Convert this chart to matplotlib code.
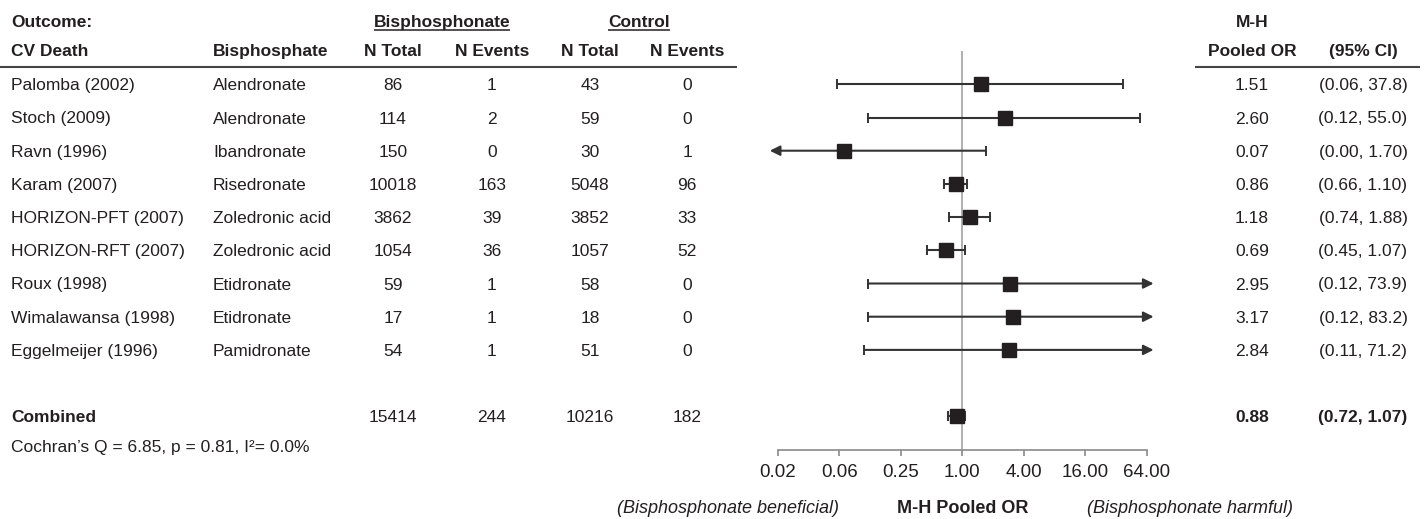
import matplotlib
matplotlib.use("Agg")
import matplotlib.pyplot as plt
from matplotlib.ticker import NullLocator

plt.rcParams["font.family"] = ["Liberation Sans", "DejaVu Sans"]

# ---- data ----
studies = ["Palomba (2002)", "Stoch (2009)", "Ravn (1996)", "Karam (2007)",
           "HORIZON-PFT (2007)", "HORIZON-RFT (2007)", "Roux (1998)",
           "Wimalawansa (1998)", "Eggelmeijer (1996)"]
drugs = ["Alendronate", "Alendronate", "Ibandronate", "Risedronate",
         "Zoledronic acid", "Zoledronic acid", "Etidronate", "Etidronate",
         "Pamidronate"]
bis_total = [86, 114, 150, 10018, 3862, 1054, 59, 17, 54]
bis_events = [1, 2, 0, 163, 39, 36, 1, 1, 1]
ctl_total = [43, 59, 30, 5048, 3852, 1057, 58, 18, 51]
ctl_events = [0, 0, 1, 96, 33, 52, 0, 0, 0]
odds_ratio = [1.51, 2.60, 0.07, 0.86, 1.18, 0.69, 2.95, 3.17, 2.84]
ci_low = [0.06, 0.12, 0.00, 0.66, 0.74, 0.45, 0.12, 0.12, 0.11]
ci_high = [37.8, 55.0, 1.70, 1.10, 1.88, 1.07, 73.9, 83.2, 71.2]

combined_counts = [15414, 244, 10216, 182]
combined_or = 0.88
combined_ci = (0.72, 1.07)

tick_vals = [1 / 64, 1 / 16, 1 / 4, 1, 4, 16, 64]
tick_labels = ["0.02", "0.06", "0.25", "1.00", "4.00", "16.00", "64.00"]

# ---- layout (pixels of the 1424x519 canvas) ----
W, H = 1424, 519
ROW0, ROW_H = 84.3, 33.2          # first study row, row pitch
X_ONE, PX_PER4 = 962.3, 61.5      # where OR=1 sits, pixels per factor 4
FX0, FX1 = 740, 1190              # forest panel extent
TIP_LO, TIP_HI = 4 ** -3.13, 4 ** 3.11   # arrow tips for open-ended CIs

TXT = "#231f20"
LINE = "#333333"
FS = 12.5


def row(py):
    return (py - ROW0) / ROW_H


fig = plt.figure(figsize=(W / 100, H / 100), dpi=100)
fig.patch.set_facecolor("white")

# table axes: x in pixels, y in row units
tab = fig.add_axes([0, 0, 1, 1])
tab.set_xlim(0, W)
tab.set_ylim(row(H), row(0))
tab.axis("off")

# forest axes: log base-4 odds ratio, same rows
fax = fig.add_axes([FX0 / W, 0, (FX1 - FX0) / W, 1])
fax.set_xscale("log", base=4)
fax.set_xlim(4 ** ((FX0 - X_ONE) / PX_PER4), 4 ** ((FX1 - X_ONE) / PX_PER4))
fax.set_ylim(row(H), row(0))
fax.patch.set_alpha(0)
for side in ["top", "left", "right"]:
    fax.spines[side].set_visible(False)
axis_y = row(450)
fax.spines["bottom"].set_position(("data", axis_y))
fax.spines["bottom"].set_bounds(tick_vals[0], tick_vals[-1])
fax.spines["bottom"].set_color("#8a8a8a")
fax.spines["bottom"].set_linewidth(1.2)
fax.set_xticks(tick_vals, tick_labels)
fax.xaxis.set_minor_locator(NullLocator())
fax.tick_params(axis="x", direction="out", length=4, width=1.2, color="#8a8a8a",
                labelsize=13.5, labelcolor=TXT, pad=6)
fax.set_yticks([])

# reference line at OR = 1
fax.vlines(1, row(51), axis_y, color="#9a9a9a", lw=1.1, zorder=1)


def draw_ci(y, lo, hi):
    left_arrow, right_arrow = lo < tick_vals[0], hi > tick_vals[-1]
    a = TIP_LO if left_arrow else lo
    b = TIP_HI if right_arrow else hi
    if left_arrow or right_arrow:
        if left_arrow and right_arrow:
            style = "<|-|>"
        elif left_arrow:
            style = "<|-"
        else:
            style = "-|>"
        fax.annotate("", xy=(b, y), xytext=(a, y),
                     arrowprops=dict(arrowstyle=style, color=LINE, lw=1.5,
                                     shrinkA=0, shrinkB=0, mutation_scale=15),
                     zorder=2)
    else:
        fax.plot([a, b], [y, y], color=LINE, lw=1.5, zorder=2)
    if not left_arrow:
        fax.plot([a], [y], marker="|", ms=7, mew=1.4, color=LINE, zorder=2)
    if not right_arrow:
        fax.plot([b], [y], marker="|", ms=7, mew=1.4, color=LINE, zorder=2)


rows = list(range(len(studies)))
for i in rows:
    draw_ci(i, ci_low[i], ci_high[i])
fax.plot(odds_ratio, rows, "s", ms=9.5, color=TXT, zorder=4)

comb_row = 10
draw_ci(comb_row, *combined_ci)
fax.plot([combined_or], [comb_row], "s", ms=9.5, color=TXT, zorder=4)

# ---- table text ----
x_study, x_drug = 11, 213
x_cols = [393, 492, 590, 687]
x_or, x_ci = 1252, 1363

hdr1, hdr2 = row(20.7), row(50)
bold = dict(fontsize=FS, fontweight="bold", color=TXT, va="center_baseline")
tab.text(x_study, hdr1, "Outcome:", ha="left", **bold)
grp_bis = tab.text(442, hdr1, "Bisphosphonate", ha="center", **bold)
grp_ctl = tab.text(639, hdr1, "Control", ha="center", **bold)
tab.text(x_or, hdr1, "M-H", ha="center", **bold)

tab.text(x_study, hdr2, "CV Death", ha="left", **bold)
tab.text(x_drug, hdr2, "Bisphosphate", ha="left", **bold)
for x, lab in zip(x_cols, ["N Total", "N Events", "N Total", "N Events"]):
    tab.text(x, hdr2, lab, ha="center", **bold)
tab.text(x_or, hdr2, "Pooled OR", ha="center", **bold)
tab.text(x_ci, hdr2, "(95% CI)", ha="center", **bold)

sep_y = row(66.7)
tab.hlines(sep_y, 0, 737, color="#444444", lw=1.5)
tab.hlines(sep_y, 1195, 1420, color="#444444", lw=1.5)

norm = dict(fontsize=FS, color=TXT, va="center_baseline")
for i in rows:
    tab.text(x_study, i, studies[i], ha="left", **norm)
    tab.text(x_drug, i, drugs[i], ha="left", **norm)
    vals = [bis_total[i], bis_events[i], ctl_total[i], ctl_events[i]]
    for x, v in zip(x_cols, vals):
        tab.text(x, i, str(v), ha="center", **norm)
    tab.text(x_or, i, f"{odds_ratio[i]:.2f}", ha="center", **norm)
    lo_s = f"{ci_low[i]:.2f}" if ci_low[i] < 10 else f"{ci_low[i]:.1f}"
    hi_s = f"{ci_high[i]:.2f}" if ci_high[i] < 10 else f"{ci_high[i]:.1f}"
    tab.text(x_ci, i, f"({lo_s}, {hi_s})", ha="center", **norm)

tab.text(x_study, comb_row, "Combined", ha="left", **bold)
for x, v in zip(x_cols, combined_counts):
    tab.text(x, comb_row, str(v), ha="center", **norm)
tab.text(x_or, comb_row, f"{combined_or:.2f}", ha="center", **bold)
tab.text(x_ci, comb_row, f"({combined_ci[0]:.2f}, {combined_ci[1]:.2f})",
         ha="center", **bold)

tab.text(x_study, row(446), "Cochran\u2019s Q = 6.85, p = 0.81, I\u00b2= 0.0%",
         ha="left", **norm)

# bottom axis captions
cap_y = row(506.7)
tab.text(728, cap_y, "(Bisphosphonate beneficial)", ha="center",
         va="center_baseline", fontsize=13, style="italic", color=TXT)
tab.text(X_ONE, cap_y, "M-H Pooled OR", ha="center", va="center_baseline",
         fontsize=13, fontweight="bold", color=TXT)
tab.text(1190, cap_y, "(Bisphosphonate harmful)", ha="center",
         va="center_baseline", fontsize=13, style="italic", color=TXT)

# underline the group headers
fig.canvas.draw()
inv = tab.transData.inverted()
for t in (grp_bis, grp_ctl):
    bb = t.get_window_extent()
    (x0, _), (x1, _) = inv.transform([(bb.x0, 0), (bb.x1, 0)])
    tab.hlines(row(29.5), x0, x1, color=TXT, lw=1.1)

fig.savefig("out.png", dpi=100, facecolor="white")
